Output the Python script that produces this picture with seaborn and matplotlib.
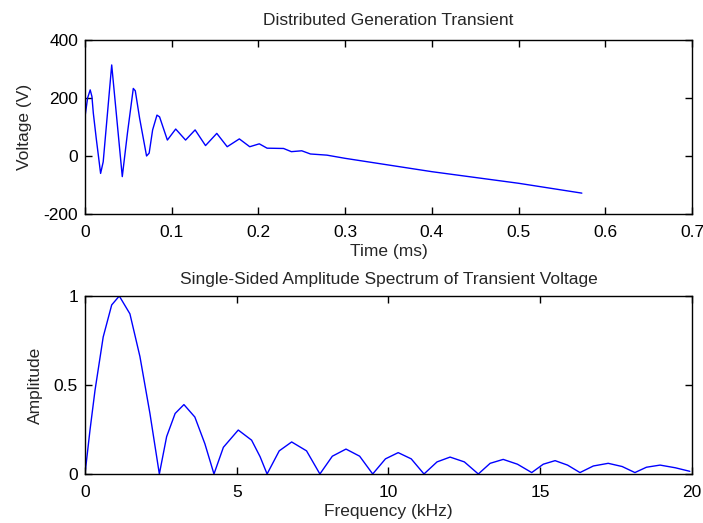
import numpy as np
import pandas as pd
import matplotlib
matplotlib.use("Agg")
import matplotlib.pyplot as plt
import seaborn as sns

# Transient waveform (time in ms, voltage in V)
time_ms = [0, 0.003, 0.006, 0.008, 0.0096, 0.013, 0.018, 0.021, 0.026, 0.0308,
           0.036, 0.043, 0.049, 0.0557, 0.058, 0.063, 0.071, 0.074, 0.078, 0.083,
           0.086, 0.095, 0.1046, 0.116, 0.127, 0.139, 0.152, 0.164, 0.178, 0.19,
           0.201, 0.21, 0.229, 0.238, 0.25, 0.26, 0.279, 0.3, 0.4, 0.5, 0.573]
voltage = [135, 200, 228, 205, 148, 60, -60, -20, 150, 314,
           150, -71, 80, 233, 225, 130, 0, 10, 90, 141,
           135, 55, 93, 55, 90, 36, 78, 32, 59, 32,
           42, 27, 26, 15, 18, 7, 3, -8, -54, -94, -128]

# Single-sided amplitude spectrum (frequency in kHz, normalised amplitude)
freq_khz = [0, 0.165, 0.33, 0.6, 0.88, 1.13, 1.48, 1.81, 2.14, 2.45,
            2.69, 2.97, 3.26, 3.62, 3.95, 4.25,
            4.56, 5.05, 5.49, 5.77, 6.0,
            6.4, 6.81, 7.3, 7.74,
            8.15, 8.6, 9.05, 9.48,
            9.9, 10.32, 10.75, 11.17,
            11.6, 12.03, 12.5, 12.96,
            13.35, 13.78, 14.25, 14.72,
            15.1, 15.49, 15.9, 16.31,
            16.75, 17.24, 17.7, 18.12,
            18.5, 18.95, 19.45, 19.93]
amplitude = [0, 0.247, 0.47, 0.77, 0.95, 1.0, 0.9, 0.66, 0.34, 0,
             0.21, 0.34, 0.39, 0.32, 0.17, 0,
             0.15, 0.247, 0.19, 0.097, 0,
             0.13, 0.18, 0.13, 0,
             0.10, 0.14, 0.10, 0,
             0.085, 0.12, 0.085, 0,
             0.068, 0.095, 0.068, 0,
             0.06, 0.082, 0.055, 0.008,
             0.055, 0.075, 0.05, 0.008,
             0.045, 0.06, 0.042, 0.008,
             0.038, 0.05, 0.035, 0.015]

wave = pd.DataFrame({"t": time_ms, "v": voltage})
spec = pd.DataFrame({"f": freq_khz, "a": amplitude})

sns.set_style("white", {
    "xtick.direction": "in", "ytick.direction": "in",
    "xtick.top": True, "ytick.right": True,
    "xtick.bottom": True, "ytick.left": True,
})
plt.rcParams["font.family"] = ["Liberation Sans", "DejaVu Sans"]
plt.rcParams["font.size"] = 12.5
plt.rcParams["axes.unicode_minus"] = False

fig = plt.figure(figsize=(7.03, 5.23), dpi=100)
ax1 = fig.add_axes([0.1209, 0.5908, 0.8634, 0.3327])
ax2 = fig.add_axes([0.1209, 0.0937, 0.8634, 0.3403])

sns.lineplot(data=wave, x="t", y="v", ax=ax1, color="#0000ff",
             linewidth=1, estimator=None, sort=False)
ax1.set(xlim=(0, 0.7), ylim=(-200, 400))
ax1.set_xticks([0, 0.1, 0.2, 0.3, 0.4, 0.5, 0.6, 0.7])
ax1.set_xticklabels(["0", "0.1", "0.2", "0.3", "0.4", "0.5", "0.6", "0.7"])
ax1.set_yticks([-200, 0, 200, 400])
ax1.set_title("Distributed Generation Transient", fontsize=12.5, pad=11)
ax1.set_xlabel("Time (ms)", labelpad=3)
ax1.set_ylabel("Voltage (V)", labelpad=8)

sns.lineplot(data=spec, x="f", y="a", ax=ax2, color="#0000ff",
             linewidth=1, estimator=None, sort=False)
ax2.set(xlim=(0, 20), ylim=(0, 1))
ax2.set_xticks([0, 5, 10, 15, 20])
ax2.set_yticks([0, 0.5, 1])
ax2.set_yticklabels(["0", "0.5", "1"])
ax2.set_title("Single-Sided Amplitude Spectrum of Transient Voltage", fontsize=12.5, pad=9)
ax2.set_xlabel("Frequency (kHz)", labelpad=3)
ax2.set_ylabel("Amplitude", labelpad=8)

for ax in (ax1, ax2):
    ax.tick_params(length=5, width=1, colors="black", labelsize=12.5)
    ax.tick_params(axis="x", pad=8)
    ax.tick_params(axis="y", pad=5)
    for s in ax.spines.values():
        s.set_color("black")
        s.set_linewidth(1)

fig.savefig("out.png", dpi=100)
